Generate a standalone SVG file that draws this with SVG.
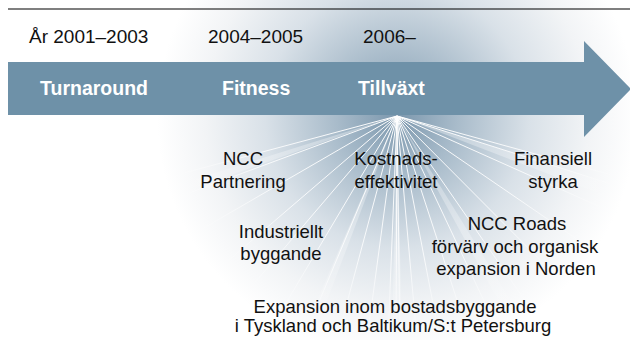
<svg xmlns="http://www.w3.org/2000/svg" width="630" height="340" viewBox="0 0 630 340">
<defs>
<radialGradient id="glow" gradientUnits="userSpaceOnUse" cx="397" cy="116" r="240">
<stop offset="0" stop-color="#7b97ad"/>
<stop offset="0.25" stop-color="#a8bbca"/>
<stop offset="0.55" stop-color="#d9e1e8"/>
<stop offset="0.8" stop-color="#f2f4f6"/>
<stop offset="1" stop-color="#ffffff"/>
</radialGradient>
<radialGradient id="rayFade" gradientUnits="userSpaceOnUse" cx="397" cy="116" r="240">
<stop offset="0" stop-color="#ffffff" stop-opacity="1"/>
<stop offset="0.6" stop-color="#ffffff" stop-opacity="0.8"/>
<stop offset="1" stop-color="#ffffff" stop-opacity="0"/>
</radialGradient>
<style>
.yr{font-family:"Liberation Sans",Arial,sans-serif;font-size:19px;fill:#111}
.ph{font-family:"Liberation Sans",Arial,sans-serif;font-size:19.5px;font-weight:bold;fill:#ffffff}
.lb{font-family:"Liberation Sans",Arial,sans-serif;font-size:18.5px;fill:#111;text-anchor:middle}
.ray{stroke:url(#rayFade);stroke-width:1;fill:none}
.wedge{fill:url(#rayFade);opacity:0.35}
</style>
</defs>
<rect x="0" y="0" width="630" height="340" fill="#ffffff"/>
<rect x="0" y="0" width="630" height="340" fill="url(#glow)"/>
<line x1="8" y1="9" x2="630" y2="9" stroke="#000" stroke-width="1.2"/>
<g id="rays">
<polygon class="wedge" points="397,116 160,190 160,200"/>
<polygon class="wedge" points="397,116 630,190 630,205"/>
<polygon class="wedge" points="397,116 392,340 402,340"/>
<polygon class="wedge" points="397,116 300,340 312,340"/>
<polygon class="wedge" points="397,116 520,340 535,340"/>
<line class="ray" x1="397" y1="116" x2="165" y2="178"/>
<line class="ray" x1="397" y1="116" x2="170" y2="200"/>
<line class="ray" x1="397" y1="116" x2="190" y2="236"/>
<line class="ray" x1="397" y1="116" x2="215" y2="272"/>
<line class="ray" x1="397" y1="116" x2="240" y2="300"/>
<line class="ray" x1="397" y1="116" x2="270" y2="330"/>
<line class="ray" x1="397" y1="116" x2="303" y2="340"/>
<line class="ray" x1="397" y1="116" x2="337" y2="340"/>
<line class="ray" x1="397" y1="116" x2="367" y2="340"/>
<line class="ray" x1="397" y1="116" x2="388" y2="340"/>
<line class="ray" x1="397" y1="116" x2="396" y2="340"/>
<line class="ray" x1="397" y1="116" x2="400" y2="340"/>
<line class="ray" x1="397" y1="116" x2="417" y2="340"/>
<line class="ray" x1="397" y1="116" x2="440" y2="340"/>
<line class="ray" x1="397" y1="116" x2="470" y2="340"/>
<line class="ray" x1="397" y1="116" x2="500" y2="335"/>
<line class="ray" x1="397" y1="116" x2="535" y2="315"/>
<line class="ray" x1="397" y1="116" x2="570" y2="290"/>
<line class="ray" x1="397" y1="116" x2="600" y2="255"/>
<line class="ray" x1="397" y1="116" x2="625" y2="218"/>
<line class="ray" x1="397" y1="116" x2="630" y2="190"/>
<line class="ray" x1="397" y1="116" x2="630" y2="180"/>
</g>
<g id="arrow">
<polygon points="8,62 584,62 584,41 631,89 584,137 584,115 8,115" fill="#6e91a8"/>
</g>
<g id="years">
<text class="yr" x="29" y="43">År 2001–2003</text>
<text class="yr" x="208" y="43">2004–2005</text>
<text class="yr" x="363" y="43">2006–</text>
</g>
<g id="phases">
<text class="ph" x="40" y="95">Turnaround</text>
<text class="ph" x="222" y="95">Fitness</text>
<text class="ph" x="358" y="95">Tillväxt</text>
</g>
<g id="n-partnering"><text class="lb" x="243" y="165">NCC</text><text class="lb" x="243" y="188">Partnering</text></g>
<g id="n-kostnad"><text class="lb" x="396" y="165">Kostnads-</text><text class="lb" x="396" y="188">effektivitet</text></g>
<g id="n-finans"><text class="lb" x="553" y="165">Finansiell</text><text class="lb" x="553" y="188">styrka</text></g>
<g id="n-industri"><text class="lb" x="281" y="238">Industriellt</text><text class="lb" x="281" y="260">byggande</text></g>
<g id="n-roads"><text class="lb" x="517" y="230">NCC Roads</text><text class="lb" x="515" y="253">förvärv och organisk</text><text class="lb" x="516" y="275">expansion i Norden</text></g>
<g id="n-bostad"><text class="lb" x="395" y="313">Expansion inom bostadsbyggande</text><text class="lb" x="393" y="332">i Tyskland och Baltikum/S:t Petersburg</text></g>
</svg>
